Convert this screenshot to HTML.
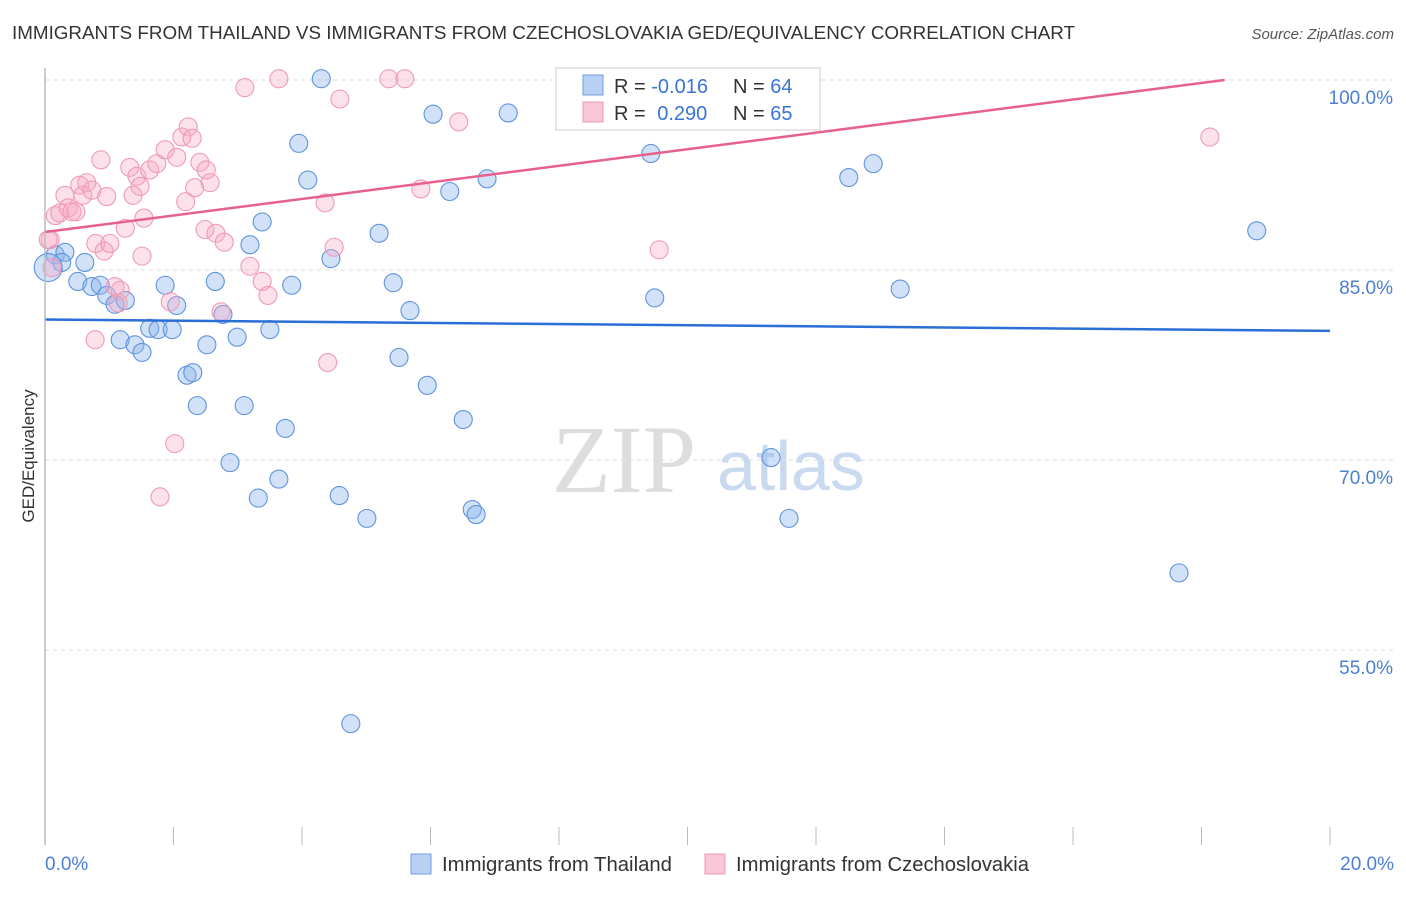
<!DOCTYPE html>
<html><head><meta charset="utf-8"><style>
body{margin:0;background:#fff;font-family:"Liberation Sans",sans-serif;}
</style></head><body>
<svg width="1406" height="892" xmlns="http://www.w3.org/2000/svg" id="svg">
<text x="12" y="39" font-size="18.5" fill="#333" textLength="1063" lengthAdjust="spacingAndGlyphs">IMMIGRANTS FROM THAILAND VS IMMIGRANTS FROM CZECHOSLOVAKIA GED/EQUIVALENCY CORRELATION CHART</text>
<text x="1394" y="39" font-size="15" fill="#555" font-style="italic" text-anchor="end">Source: ZipAtlas.com</text>
<text x="34" y="456" font-size="17" fill="#333" text-anchor="middle" transform="rotate(-90 34 456)">GED/Equivalency</text>
<text x="552" y="492" font-size="96" fill="#ddd" font-family="Liberation Serif,serif">ZIP</text>
<text x="717" y="490" font-size="70" fill="#c9daf0">atlas</text>
<g id="grid"></g><g id="pts"></g><g id="lines"></g>
<line x1="45" y1="68" x2="45" y2="845" stroke="#bbb" stroke-width="1.5"/>
<text x="45" y="870" font-size="19" fill="#4a7fd4">0.0%</text>
<text x="1394" y="870" font-size="19" fill="#4a7fd4" text-anchor="end">20.0%</text>
<g>
<rect x="556" y="68" width="264" height="62" fill="#fff" stroke="#ccc"/>
<rect x="583" y="75" width="20" height="20" fill="#b8d0f4" stroke="#6f9be0"/>
<rect x="583" y="102" width="20" height="20" fill="#f9c7d6" stroke="#ec9ab4"/>
<text x="614" y="93" font-size="20" fill="#333">R = <tspan fill="#3a74d6">-0.016</tspan></text>
<text x="733" y="93" font-size="20" fill="#333">N = <tspan fill="#3a74d6">64</tspan></text>
<text x="614" y="120" font-size="20" fill="#333">R = <tspan fill="#3a74d6" dx="6">0.290</tspan></text>
<text x="733" y="120" font-size="20" fill="#333">N = <tspan fill="#3a74d6">65</tspan></text>
</g>
<g><rect x="411" y="854" width="20" height="20" fill="#b8d0f4" stroke="#6f9be0"/><text x="442" y="871" font-size="20" fill="#333" textLength="230" lengthAdjust="spacingAndGlyphs">Immigrants from Thailand</text></g>
<g><rect x="705" y="854" width="20" height="20" fill="#f9c7d6" stroke="#ec9ab4"/><text x="736" y="871" font-size="20" fill="#333" textLength="293" lengthAdjust="spacingAndGlyphs">Immigrants from Czechoslovakia</text></g>
</svg>
<script>
const yTicks=[100,85,70,55];
const xTicks=[0,2,4,6,8,10,12,14,16,18,20];
const bluePx=[[55,255],[65,252],[85,262],[78,282],[92,287],[100,285],[107,296],[115,304],[125,300],[120,340],[135,345],[142,352],[150,328],[158,330],[172,330],[165,285],[177,306],[187,375],[193,373],[197,405],[207,345],[215,282],[223,315],[237,337],[244,405],[250,245],[262,222],[230,463],[258,498],[270,330],[279,479],[285,429],[292,285],[299,143],[308,180],[321,79],[331,259],[339,495],[367,518],[379,233],[393,283],[399,357],[410,310],[427,385],[433,114],[450,192],[463,420],[472,510],[476,515],[487,179],[508,113],[651,154],[655,298],[771,457],[789,518],[849,177],[873,163],[900,289],[1179,573],[1257,231],[351,724],[62,262],[593,83],[48,268]];
const pinkPx=[[50,240],[52,268],[55,215],[60,213],[65,195],[68,208],[72,212],[76,212],[80,185],[83,195],[87,182],[92,190],[96,243],[101,160],[104,251],[107,197],[110,244],[115,287],[120,290],[118,303],[125,228],[95,340],[130,168],[133,195],[137,176],[140,187],[144,218],[142,256],[150,170],[157,164],[165,150],[170,302],[175,444],[160,497],[177,157],[182,137],[186,201],[188,127],[192,138],[195,188],[200,162],[205,230],[206,170],[210,182],[216,233],[221,312],[224,242],[245,88],[250,266],[262,281],[268,296],[279,79],[325,203],[328,363],[334,247],[340,99],[389,79],[405,79],[421,189],[459,122],[570,79],[659,250],[1210,137],[48,240],[572,80]];
const blueX=bluePx.map(p=>+((p[0]-45)/64.25).toFixed(2));
const blueY=bluePx.map(p=>+(100-(p[1]-80)/12.67).toFixed(1));
const pinkX=pinkPx.map(p=>+((p[0]-45)/64.25).toFixed(2));
const pinkY=pinkPx.map(p=>+(100-(p[1]-80)/12.67).toFixed(1));
const blueTrend=[[0,81.1],[20,80.2]];
const pinkTrend=[[0,88.0],[18.36,100]];
const X=v=>45+v*64.25, Y=v=>80+(100-v)*12.67;
const NS="http://www.w3.org/2000/svg";
function mk(t,a,p){const e=document.createElementNS(NS,t);for(const k in a)e.setAttribute(k,a[k]);document.getElementById(p).appendChild(e);return e;}
yTicks.forEach(v=>{
 const l=mk('line',{x1:45,x2:1393,y1:Y(v),y2:Y(v),stroke:'#ddd','stroke-dasharray':'4,4'},'grid');
 
 
 const t=mk('text',{x:1393,y:Y(v)+24,'font-size':19,fill:'#4a7fd4','text-anchor':'end'},'grid');
 t.textContent=v.toFixed(1)+'%';
 
 
});
xTicks.forEach(v=>{
 const l=mk('line',{x1:X(v),x2:X(v),y1:827,y2:845,stroke:'#bbb'},'grid');
 
 
});
blueX.forEach((x,i)=>{
 const c=mk('circle',{cx:X(x),cy:Y(blueY[i]),r:(i==63?14:9),fill:'rgba(140,180,236,0.4)',stroke:'#5f93de','stroke-width':1.1},'pts');
 
 
});
pinkX.forEach((x,i)=>{
 const c=mk('circle',{cx:X(x),cy:Y(pinkY[i]),r:9,fill:'rgba(245,170,195,0.35)',stroke:'#ef9ab6','stroke-width':1.1},'pts');
 
 
});
const bl=mk('line',{x1:X(blueTrend[0][0]),y1:Y(blueTrend[0][1]),x2:X(blueTrend[1][0]),y2:Y(blueTrend[1][1]),stroke:'#2a6fd6','stroke-width':2.5},'lines');


const pl=mk('line',{x1:X(pinkTrend[0][0]),y1:Y(pinkTrend[0][1]),x2:X(pinkTrend[1][0]),y2:Y(pinkTrend[1][1]),stroke:'#e8608d','stroke-width':2.5},'lines');


</script>
</body></html>
